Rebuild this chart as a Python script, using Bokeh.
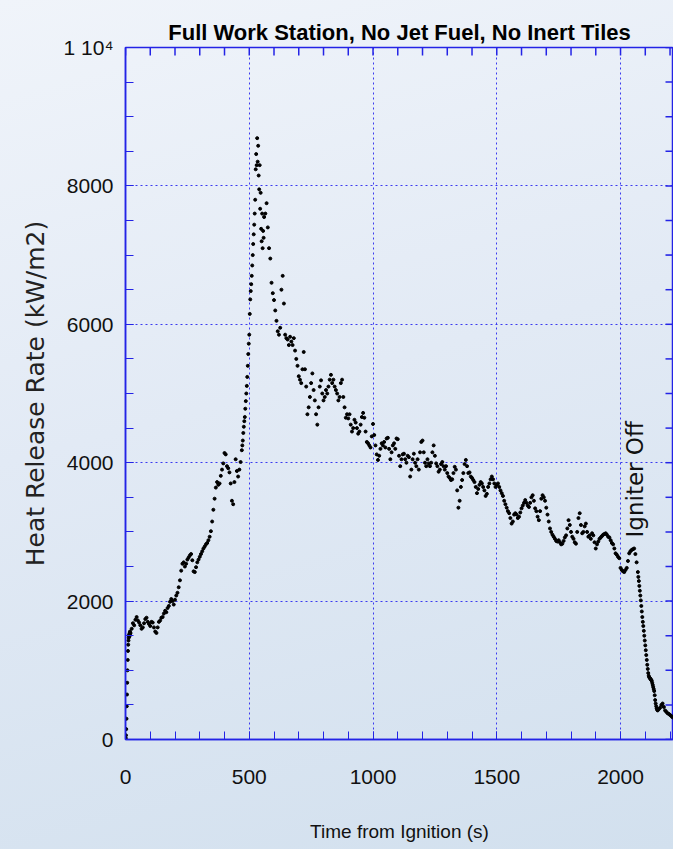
import numpy as np
from math import pi
from bokeh.plotting import figure
from bokeh.models import FixedTicker, Label, Range1d, ColumnDataSource
from bokeh.embed import file_html
from bokeh.resources import INLINE

TITLE = "Full Work Station, No Jet Fuel, No Inert Tiles"
X_LABEL = "Time from Ignition (s)"
Y_LABEL = "Heat Release Rate (kW/m2)"
ANNOTATION = "Igniter Off"
igniter_off_t = 2000
annotation_y = 2920

x_min, x_max = 0, 2214
y_min, y_max = 0, 10000
x_major = [0, 500, 1000, 1500, 2000]
x_minor = [v for v in range(0, 2300, 100)]
y_major = [0, 2000, 4000, 6000, 8000, 10000]
y_minor = [v for v in range(0, 10001, 500)]
y_tick_labels = {10000: "1 10\u2074"}

# heat release rate readings (kW/m2), grouped by phase with their sampling step (s)
rise_start, rise_step = 0, 1
hrr_rise = [0, 20, 60, 150, 300, 480, 650, 820, 1000, 1150,
            1280, 1370, 1430, 1470, 1500, 1520, 1490, 1540, 1560, 1530]

growth_start, growth_step = 20, 5
hrr_growth = [1540, 1600, 1680, 1650, 1730, 1770, 1720, 1690, 1650, 1600,
              1620, 1680, 1740, 1760, 1700, 1670, 1640, 1700, 1690, 1620,
              1560, 1540, 1620, 1700, 1720, 1760, 1770, 1820, 1860, 1840,
              1900, 1930, 1990, 2030, 2000, 1950, 2020, 2080, 2120, 2200,
              2300, 2440, 2540, 2560, 2500, 2540, 2600, 2630, 2660, 2680,
              2590, 2430, 2420, 2490, 2560, 2600, 2640, 2680, 2720, 2760,
              2790, 2820, 2840, 2880, 2930, 3010, 3150, 3320, 3480, 3640,
              3720, 3680, 3700, 3810, 3900, 3990, 4140, 4120, 3950, 3920,
              3860, 3700, 3450, 3400, 3720, 4050, 3880, 3800, 3900, 4010]

peak_start, peak_step = 470, 2
hrr_peak = [4180, 4250, 4320, 4430, 4520, 4600, 4660, 4780, 4890, 5000,
            5110, 5240, 5400, 5570, 5720, 5850, 6150, 6360, 6480, 6580,
            6700, 6850, 7000, 7160, 7300, 7440, 7600, 7800, 8240, 8460,
            8300, 8690, 8350, 8580, 8150, 7950, 8300, 7670, 7900, 7380,
            7200, 7600, 7100, 7350, 7250, 7550]

decay_start, decay_step = 565, 5
hrr_decay = [7600, 7750, 7400, 7100, 6950, 6600, 6450, 6350, 6200, 6050,
             5900, 5850, 5950, 6500, 6700, 6300, 5850, 5800, 5780, 5700,
             5820, 5750, 5700, 5800, 5620, 5500, 5400, 5250, 5200, 5150,
             5350, 5600, 5350, 5100, 4700, 4800, 4950, 5150, 5290, 5050,
             4900, 4700, 4550, 4800, 5100, 5190, 5000, 4900, 4950, 5050,
             5000, 5100, 5200, 5270, 5150, 5200, 5100, 5050, 5000, 4900,
             4950, 5150, 5200, 4950, 4800, 4650, 4700, 4640, 4700, 4550,
             4450, 4500, 4620, 4580, 4500, 4420, 4450, 4550, 4660, 4720,
             4650, 4450, 4300, 4280, 4250, 4220, 4380, 4560, 4400, 4250,
             4120, 4040, 4100, 4200, 4280, 4250, 4300, 4220, 4350, 4360,
             4200, 4050, 4150, 4250, 4280, 4200, 4350, 4340, 4100, 3950,
             4050, 4120, 4130, 4050, 4000, 4100, 4080, 3800, 3900, 4050,
             4130, 4000, 3950, 4050, 3900, 4150, 4300, 4320, 4150, 4000,
             3950, 4050, 3990, 3950, 4000, 4150, 4250, 4100, 3990, 3950,
             3870, 3900, 3980, 4010, 3950, 3900, 3950, 3850, 3800, 3780,
             3750, 3760, 3850, 3940, 3900, 3600, 3350, 3450, 3650, 3750,
             3850, 3980, 4040, 3950, 3850, 3860, 3800, 3780, 3750, 3720,
             3650, 3560, 3620, 3680, 3720, 3700, 3650, 3600, 3520, 3550,
             3650, 3700, 3760, 3800, 3760, 3700, 3650, 3680, 3700, 3650,
             3600, 3560, 3520, 3450, 3400, 3350, 3300, 3270, 3200, 3120,
             3150, 3250, 3270, 3250, 3200, 3220, 3280, 3340, 3380, 3420,
             3460, 3420, 3380, 3360, 3420, 3500, 3530, 3450, 3340, 3300,
             3220, 3170, 3300, 3480, 3530, 3500, 3450, 3350, 3250, 3150,
             3050, 3000, 2960, 2930, 2900, 2870, 2860, 2880, 2850, 2820,
             2830, 2870, 2920, 2950, 3050, 3170, 3100, 3000, 2930, 2900,
             2850, 2830, 3000, 3200, 3270, 3100, 2980, 3000, 3080, 3120,
             3000, 2930, 2950, 2900, 2980, 2950, 2850, 2760, 2820, 2860,
             2900, 2920, 2940, 2960, 2970, 2980, 2960, 2930, 2920, 2880,
             2840, 2820, 2760, 2690, 2670, 2640, 2620, 2480, 2450, 2430,
             2420, 2450, 2480, 2580, 2690, 2720, 2740, 2750, 2760, 2680,
             2560]

off_start, off_step = 2070, 2
hrr_off = [2420, 2350, 2290, 2220, 2150, 2080, 2010, 1930, 1850, 1770,
           1700, 1640, 1570, 1500, 1430, 1360, 1290, 1220, 1150, 1080,
           1020, 960, 920, 900, 890, 880, 870, 860, 850, 820,
           790, 760, 730, 700, 640, 570, 520, 480, 450, 430, 420]

tail_start, tail_step = 2155, 5
hrr_tail = [440, 460, 500, 520, 470, 420, 400, 380, 370, 355, 340, 320]

phases = [(rise_start, rise_step, hrr_rise),
          (growth_start, growth_step, hrr_growth),
          (peak_start, peak_step, hrr_peak),
          (decay_start, decay_step, hrr_decay),
          (off_start, off_step, hrr_off),
          (tail_start, tail_step, hrr_tail)]
time_s = np.concatenate([s + st * np.arange(len(v)) for s, st, v in phases])
hrr = np.concatenate([np.asarray(v, dtype=float) for _, _, v in phases])
source = ColumnDataSource(data=dict(t=time_s, hrr=hrr))

BLUE = "#2323e6"
GRID = "#3a3af0"
FONT = "Liberation Sans"
WIDE = "DejaVu Sans"

p = figure(width=673, height=849, x_range=Range1d(x_min, x_max), y_range=Range1d(y_min, y_max),
           output_backend="svg", toolbar_location=None, title=TITLE,
           min_border_left=125, min_border_right=0, min_border_top=47, min_border_bottom=110)
p.background_fill_color = None
p.border_fill_color = None
p.styles = {"background-image": "linear-gradient(165deg, #f0f4fa 0%, #e2eaf5 45%, #d2e0ee 100%)"}
p.outline_line_color = BLUE
p.outline_line_width = 1.5

p.title.text_font = FONT
p.title.text_font_size = "22px"
p.title.text_font_style = "bold"
p.title.text_color = "#000000"
p.title.align = "center"
p.title.standoff = 6

xa = p.below[0]
ya = p.left[0]
xa.ticker = FixedTicker(ticks=x_major, minor_ticks=x_minor)
ya.ticker = FixedTicker(ticks=y_major, minor_ticks=y_minor)
for ax in [xa, ya]:
    ax.axis_line_color = BLUE
    ax.axis_line_width = 1.5
    ax.major_tick_line_color = BLUE
    ax.minor_tick_line_color = BLUE
    ax.major_tick_in = 8
    ax.major_tick_out = 0
    ax.minor_tick_in = 8
    ax.minor_tick_out = 0

xa.axis_label = X_LABEL
xa.axis_label_text_font = FONT
xa.axis_label_text_font_size = "19px"
xa.axis_label_text_font_style = "normal"
xa.axis_label_text_color = "#111111"
xa.axis_label_standoff = 34
xa.major_label_text_font = FONT
xa.major_label_text_font_size = "21px"
xa.major_label_text_color = "#111111"
xa.major_label_standoff = 30

ya.axis_label = Y_LABEL
ya.axis_label_text_font = WIDE
ya.axis_label_text_font_size = "25px"
ya.axis_label_text_font_style = "normal"
ya.axis_label_text_color = "#222222"
ya.axis_label_standoff = 11
ya.major_label_text_font = FONT
ya.major_label_text_font_size = "21px"
ya.major_label_text_color = "#111111"
ya.major_label_standoff = 12
ya.major_label_overrides = y_tick_labels

p.xgrid.ticker = FixedTicker(ticks=x_major)
p.ygrid.ticker = FixedTicker(ticks=y_major)
for g in [p.xgrid[0], p.ygrid[0]]:
    g.grid_line_color = GRID
    g.grid_line_dash = "2 3"
    g.grid_line_width = 1

# inward ticks on the top and right frame edges (half of each dash is clipped away)
p.scatter(x=x_minor, y=[y_max] * len(x_minor), marker="dash", angle=pi / 2, size=16,
          line_color=BLUE, line_width=1.5)
p.scatter(x=[x_max] * len(y_minor), y=y_minor, marker="dash", size=16,
          line_color=BLUE, line_width=1.5)

p.scatter("t", "hrr", source=source, size=3, color="black", marker="circle")

p.add_layout(Label(x=igniter_off_t, y=annotation_y, text=ANNOTATION, angle=pi / 2,
                   x_offset=1, text_align="left", text_baseline="top",
                   text_font=WIDE, text_font_size="23px", text_color="#111111"))

open("out.html", "w").write(file_html(p, INLINE))
